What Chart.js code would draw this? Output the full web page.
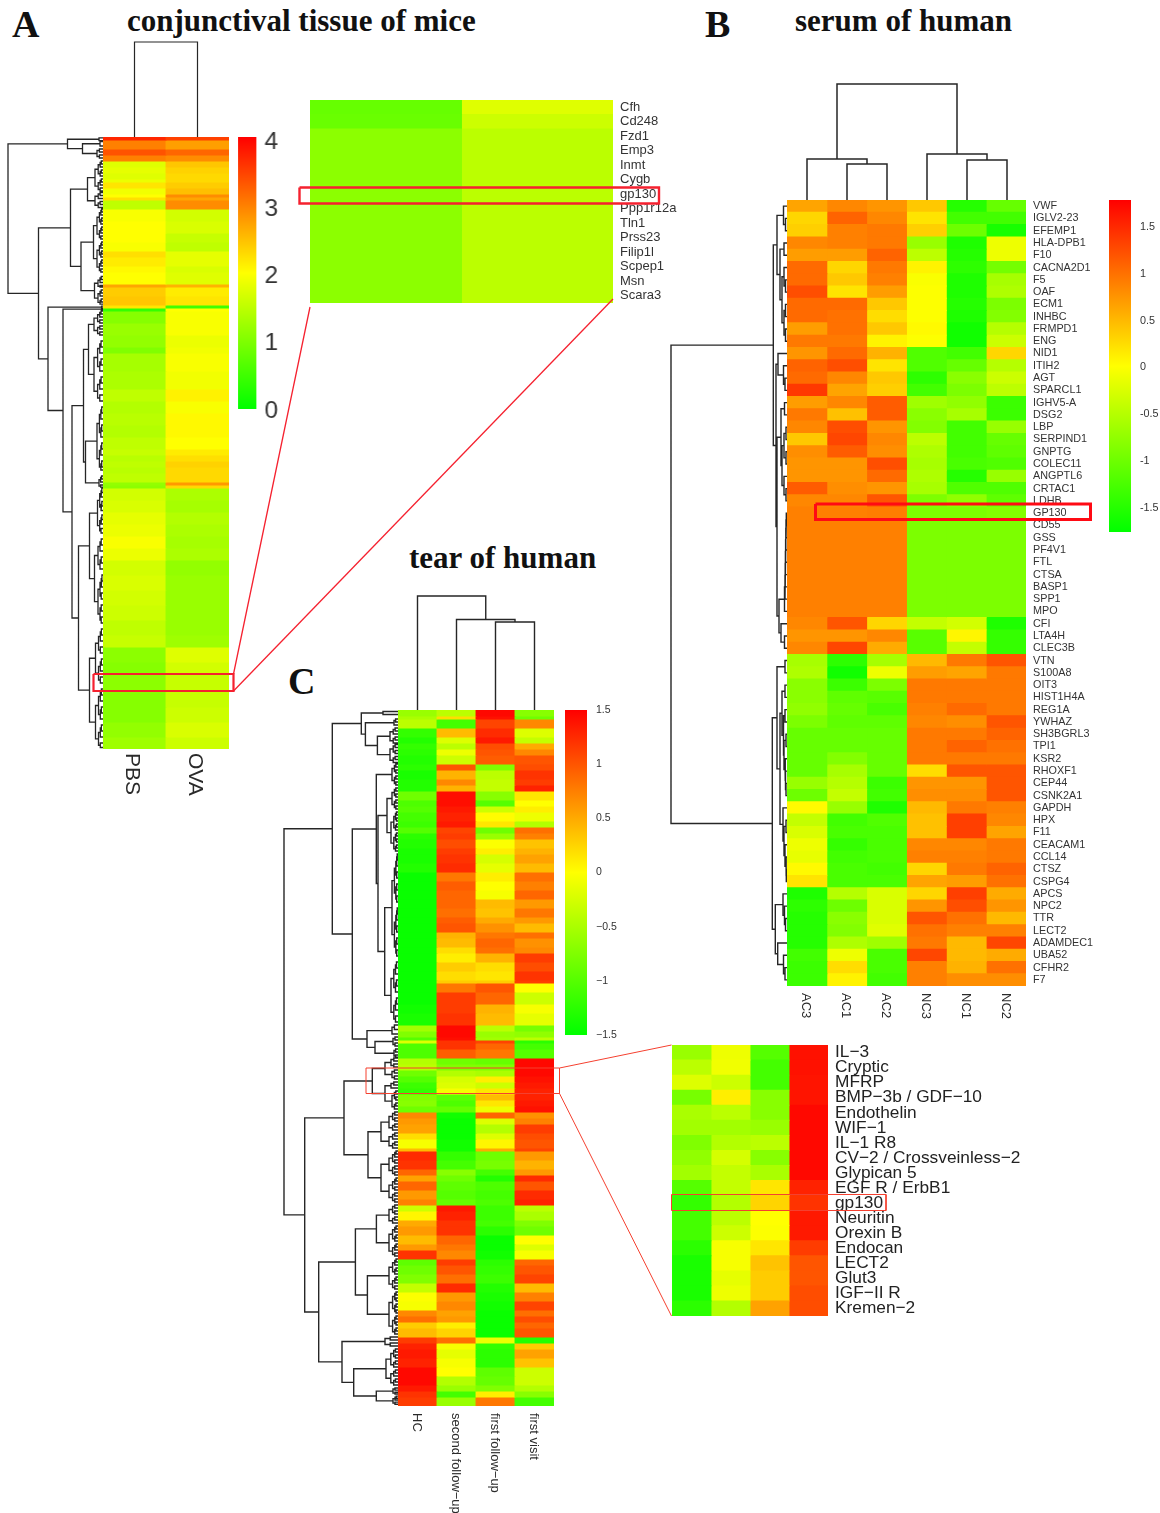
<!DOCTYPE html>
<html><head><meta charset="utf-8">
<script src="https://cdn.jsdelivr.net/npm/chart.js@4/dist/chart.umd.min.js"></script>
<style>
html,body{margin:0;padding:0;background:#fff}
#page{position:relative;width:1160px;height:1513px;overflow:hidden;background:#fff;filter:blur(.45px)}
#page canvas{position:absolute;display:block}
.t{position:absolute;font-family:"Liberation Serif",serif;font-weight:bold;color:#111;white-space:nowrap;line-height:1}
</style></head><body><div id="page">
<div class="t" style="left:12px;top:5px;font-size:38px">A</div>
<div class="t" style="left:127px;top:5px;font-size:31px">conjunctival tissue of mice</div>
<div class="t" style="left:705px;top:5px;font-size:38px">B</div>
<div class="t" style="left:795px;top:5px;font-size:31px">serum of human</div>
<div class="t" style="left:288px;top:662px;font-size:38px">C</div>
<div class="t" style="left:409px;top:542px;font-size:31px">tear of human</div>
</div>
<script>
/* ---------- Panel A: conjunctival tissue of mice ---------- */
const A_columns = ['PBS','OVA'];
/* [genes in block, PBS, OVA] */
const A_rows = [
[1,3.7,3.5],[3,3.0,2.75],[2,3.35,3.2],[2,3.0,2.9],
[2,1.75,2.45],[2,1.8,2.35],[2,1.75,2.3],[1,1.85,2.3],[2,2.2,2.4],[2,1.9,2.5],[1,2.0,2.9],[1,2.25,2.7],[3,1.5,2.9],
[4,1.95,1.65],[4,2.0,1.7],[3,2.0,1.55],[3,1.95,1.5],[2,2.25,1.8],[3,2.15,1.8],[2,2.05,1.7],[4,2.0,1.75],
[1,2.7,2.6],[3,2.4,2.15],[3,2.45,2.2],[1,2.2,0.5],[1,0.4,2.0],
[4,1.05,1.95],[4,1.2,1.95],[4,1.15,1.85],[2,1.0,1.9],[6,1.3,1.95],[6,1.35,1.9],[4,1.5,2.1],
[4,1.4,1.95],[4,1.45,2.05],[4,1.4,2.05],[4,1.5,2.0],[2,1.55,2.15],[2,1.45,2.25],[2,1.5,2.35],[2,1.45,2.3],[3,1.5,2.3],
[1,1.15,2.8],[1,1.1,2.3],
[4,1.65,1.35],[4,1.7,1.3],[4,1.8,1.4],[4,1.85,1.35],[4,1.95,1.3],[4,1.85,1.35],
[5,1.65,1.15],[5,1.7,1.2],[5,1.65,1.2],[5,1.6,1.2],[5,1.5,1.2],[4,1.55,1.25],
[5,1.1,1.75],[4,1.05,1.65],[6,1.1,1.55],[5,1.05,1.55],[5,1.05,1.6],[5,1.15,1.7],[4,1.25,1.6]];
const A_colTree = [95,1,2];
const A_rowTree = [95,
 [35.5,[4,0.3,1.2],[20.5,[3,1.5,3],[6,4,5,6,7]]],
 [64.5,
  [32.5,
   [15.5,[8,8,9,10,11,12,13,14,15,16,17,18],[8,18.5,19.5,20.5,21.5,22.5,23.5]],
   [22,[9.5,[6,24,25,26,27,28,29,30,31,32,33,34],[6,35,36,37,38,39,40,41,42,43,44,45]],[8.5,[5,46.5,47.5,48.5,49.5,50],[5,51,52,53,54,55,55.7]]]],
  [55,
   [1.5,56.4,57],
   [40,
    [1.5,57.2,57.6],
    [31,
     [19.5,
      [14.5,[9,58,59,60,61,62,63,64,65,66],[9,68,70,72,74,76,78,80,82,84,86,88]],
      [17.5,[6,90,92,94,96,98,100,102,104,106,108,110,111],[4,113,114,115,116,116.7]]],
     [24.5,
      [13.5,[5.5,117,118.5,120,121.5,123,124.5,126,127.5,129,130.5,132],[8.5,[5,134,136,138,140,142,144],[5,146,148,150,152,154,156,158,160,162]]],
      [13.5,[7.5,164,166,168,170,172,174,176,178,180,182],[7.5,184,186,188,190,192,194,196,198,200,202,203.5]]]]]]]];
const A_tickValues = [0,1,2,3,4];

const A_insetGenes = ['Cfh','Cd248','Fzd1','Emp3','Inmt','Cygb','gp130','Ppp1r12a','Tln1','Prss23','Filip1l','Scpep1','Msn','Scara3'];
const A_insetPBS = [0.8,0.82,1.1,1.1,1.1,1.1,1.1,1.1,1.1,1.1,1.1,1.1,1.1,1.1];
const A_insetOVA = [1.75,1.6,1.47,1.47,1.47,1.47,1.47,1.47,1.47,1.47,1.47,1.47,1.47,1.47];

/* ---------- Panel B: serum of human ---------- */
const B_columns = ['AC3','AC1','AC2','NC3','NC1','NC2'];
const B_genes = ['VWF','IGLV2-23','EFEMP1','HLA-DPB1','F10','CACNA2D1','F5','OAF','ECM1','INHBC','FRMPD1','ENG','NID1','ITIH2','AGT','SPARCL1','IGHV5-A','DSG2','LBP','SERPIND1','GNPTG','COLEC11','ANGPTL6','CRTAC1','LDHB','GP130','CD55','GSS','PF4V1','FTL','CTSA','BASP1','SPP1','MPO','CFI','LTA4H','CLEC3B','VTN','S100A8','OIT3','HIST1H4A','REG1A','YWHAZ','SH3BGRL3','TPI1','KSR2','RHOXF1','CEP44','CSNK2A1','GAPDH','HPX','F11','CEACAM1','CCL14','CTSZ','CSPG4','APCS','NPC2','TTR','LECT2','ADAMDEC1','UBA52','CFHR2','F7'];
const B_values = [
[.65,.85,.75,.4,-1.5,-1.05],[.3,1.1,.85,.2,-1.3,-1.3],[.35,.9,.95,.35,-1.0,-1.6],[.85,.9,.95,-.7,-1.55,-.1],[.7,.7,1.1,-.45,-1.5,-.1],
[1.05,.3,.95,.1,-1.45,-.95],[1.05,.4,.9,-.02,-1.55,-.6],[1.25,.2,.7,0,-1.55,-.55],[1.05,1.05,.4,0,-1.5,-.9],[1.05,1.0,.25,0,-1.55,-.85],
[.7,1.0,.4,.05,-1.65,-.5],[.95,.95,.1,0,-1.65,-.35],[.75,1.05,.55,-1.2,-1.3,.3],[1.1,1.25,.2,-1.2,-1.05,-.5],[1.05,.85,.4,-1.45,-.8,-.35],
[1.4,.65,.35,-1.3,-.9,-.45],[.7,.85,1.15,-.65,-.75,-1.35],[.95,.45,1.15,-.8,-.6,-1.35],[.85,1.25,.75,-.85,-1.3,-.7],[.4,1.3,.85,-.45,-1.3,-1.05],
[.8,1.15,.8,-.55,-1.3,-1.1],[.75,.75,1.25,-.6,-1.25,-1.2],[.75,.75,1.05,-.55,-1.5,-.7],[1.15,.8,.75,-.6,-1.2,-1.2],[.85,.85,1.2,-.9,-.75,-1.1],
[.9,.9,.92,-.9,-.9,-.85],[.9,.9,.9,-.9,-.9,-.9],[.9,.9,.9,-.9,-.9,-.9],[.9,.9,.9,-.9,-.9,-.9],[.9,.9,.9,-.9,-.9,-.9],[.9,.9,.9,-.9,-.9,-.9],[.9,.9,.9,-.9,-.9,-.9],[.9,.9,.9,-.9,-.9,-.9],[.9,.9,.9,-.9,-.9,-.9],
[.85,1.2,.3,-.4,-.3,-1.55],[.75,.75,.85,-1.15,.08,-1.4],[.85,1.3,.6,-1.15,-.4,-1.4],
[-.6,-1.45,-.6,.5,.95,1.2],[-.55,-1.65,-.1,.7,.65,.95],[-.8,-1.35,-.9,.95,.95,.95],[-.8,-1.1,-1.15,.95,.95,.95],[-.75,-1.05,-1.25,.9,1.05,.95],
[-.9,-1.1,-1.1,.85,.8,1.2],[-1.05,-1.05,-1.05,.95,.95,1.1],[-1.05,-1.05,-1.05,.95,1.1,1.0],[-1.05,-.85,-1.05,.95,.95,.95],[-1.05,-.6,-1.05,.25,1.2,1.2],
[-.7,-.5,-1.35,.75,.75,1.2],[-1.0,-.4,-1.3,.8,.8,1.2],[.05,-.7,-1.55,.5,.95,.9],[-.4,-1.3,-1.2,.45,1.35,.85],[-.25,-1.25,-1.25,.45,1.35,.65],
[-.1,-1.4,-1.25,.85,.85,.95],[-.15,-1.3,-1.25,.9,.9,.95],[.05,-1.25,-1.3,.3,.95,1.1],[.2,-1.25,-1.25,.65,.7,1.0],
[-1.55,-.5,-.25,.3,1.35,.6],[-1.45,-1.0,-.25,.75,1.25,.75],[-1.5,-.8,-.25,1.2,1.0,.5],[-1.5,-.85,-.2,1.0,.9,.9],[-1.5,-.55,-.65,.95,.5,1.3],
[-1.3,-.1,-1.25,1.3,.5,.6],[-1.35,.25,-1.25,.9,.55,1.0],[-1.35,.1,-1.3,.9,.8,.8]];
const B_colTree = [116,[41,1,[36,2,3]],[46,4,[40,5,6]]];
const B_rowTree = [116,
 [13.7,
  [10,[3.5,1,[1.5,2,3]],[7,[3,4,5],[5,[3,6,[1.5,7,8]],[3,[1.5,9,10],[1.5,11,12]]]]],
  [11,
   [9,13,[3.5,14,[2,15,16]]],
   [10,
    [6,[2.5,17,18],[5,[3,[1,19,20],[1,21,22]],[3,23,[1,24,25]]]],
    [8,[2.5,[2,[1.8,[1.6,[1.4,[1.2,[1,[.7,26,27],28],29],30],31],32],33],34],[6,35,[2.5,36,37]]]]]],
 [14.7,
  [10,[2,38,39],[7,[5,[2,40,41],[3.5,[2,42,43],[3,[1,44,45],[2,46,[1.5,47,[1,48,49]]]]]],[4,50,[3,[1,51,52],[2,53,[1,54,[.7,55,56]]]]]]],
  [11.7,[4,57,[2.5,58,[1.5,59,60]]],[9.3,61,[3.5,62,[2,63,64]]]]]];
const B_tickValues = [-1.5,-1,-0.5,0,0.5,1,1.5];

/* ---------- Panel C: tear of human ---------- */
const C_columns = ['HC','second follow\u2212up','first follow\u2212up','first visit'];
/* [genes in block, HC, second follow-up, first follow-up, first visit] */
const C_rows = [
[2,-.6,-.4,1.45,-.7],[1,-.5,.2,1.4,-.85],[3,-.4,-1.1,1.1,.7],[3,-1.2,.4,1.25,-.2],[2,-1.3,-.2,1.35,-.35],[2,-1.2,-.4,1.05,.5],[2,-1.25,-.1,1.0,.7],[3,-1.3,-.3,.95,1.0],
[2,-1.25,1.0,-.75,1.05],[3,-1.35,.45,-.4,1.2],[2,-1.3,.7,-.35,1.15],[2,-1.3,.45,-.35,1.3],[3,-.85,1.42,-.7,.15],[2,-1.05,1.42,-1.0,0],[2,-1.0,1.35,-.3,.1],[3,-1.1,1.3,.02,-.1],[2,-1.15,1.35,.15,-.45],
[2,-1.0,1.1,-.85,.85],[2,-1.25,1.15,-.6,.75],[3,-1.3,1.05,-.02,.35],[2,-1.35,1.15,.1,.45],[3,-1.35,1.2,-.25,.55],[3,-1.3,1.25,-.15,.4],
[3,-1.45,.8,.1,.85],[3,-1.45,.95,0,.75],[3,-1.45,.9,-.05,.9],[3,-1.45,.9,.4,.6],[3,-1.45,.85,.35,.8],[2,-1.45,.95,.5,.6],[3,-1.45,1.0,.65,.4],
[2,-1.45,.45,.8,.85],[3,-1.45,.4,.9,.65],[2,-1.45,.2,.85,.7],[3,-1.45,.1,.45,1.15],[3,-1.45,.3,.2,1.05],[3,-1.45,.2,.15,1.2],[1,-1.45,.3,.3,1.15],
[3,-1.45,.8,1.0,0],[4,-1.45,1.15,.9,-.3],[3,-1.4,1.15,.45,-.05],[4,-1.35,1.2,.4,-.15],[2,-.55,1.45,-.4,-.8],[2,-.75,1.45,-.6,-.65],[1,-1.0,1.42,-.55,-.4],
[1,-.2,1.2,1.1,-1.25],[2,-1.05,1.2,.9,-1.1],[3,-1.05,.95,.8,-1.0],
[2,-.45,-.85,-.9,1.45],[2,-.4,-.75,-.75,1.45],[2,-.85,-.45,-.5,1.45],[2,-1.0,-.25,.1,1.4],[2,-1.15,-.2,-.3,1.35],[2,-1.2,-.05,.15,1.3],[2,-.75,-.95,.4,1.3],[2,-.7,-1.05,.15,1.35],[2,-.85,-.9,-.1,1.4],
[2,.7,-1.4,.9,.65],[2,.6,-1.45,-.2,.75],[3,.55,-1.45,-.45,1.15],[2,.2,-1.45,-.2,1.05],[3,-.05,-1.4,.05,1.0],[1,.4,-1.4,.5,1.1],
[3,1.25,-1.2,-.85,.6],[3,1.2,-1.1,-.8,.45],[2,.9,-.7,-1.1,.6],[2,.55,-.85,-1.3,1.25],[3,.9,-.95,-1.05,1.0],[3,.6,-1.0,-1.1,1.25],[2,.75,-.9,-1.05,1.3],
[2,-.3,1.35,-1.15,-.4],[3,.05,1.3,-1.15,-.5],[2,.5,1.2,-1.1,-.75],[3,.6,1.2,-1.25,-.85],[3,.4,.9,-1.45,0],[2,.6,.8,-1.45,-.2],[3,1.2,.7,-1.4,-.05],
[2,-.95,1.15,-1.25,.9],[3,-.85,1.0,-1.2,1.0],[3,-.75,.85,-1.15,1.1],[3,-.35,1.25,-1.3,.4],[3,-.02,.6,-1.35,.75],[3,-.05,.7,-1.4,1.1],
[2,.7,.55,-1.45,.85],[2,.85,.6,-1.45,1.05],[2,.3,.1,-1.45,.9],[3,.4,.25,-1.45,1.0],[2,1.15,.85,-.1,-1.3],
[2,1.3,-.05,-1.2,.3],[3,1.35,-.15,-1.25,.55],[3,1.3,-.05,-1.25,.35],[3,1.45,0,-.95,-.3],[3,1.45,-.45,-.9,-.3],[2,1.35,-.6,-.75,-.45],[2,1.2,-1.1,.1,-.7],[3,1.15,-.6,.8,-1.1]];
const C_colTree = [114,1,[90.5,2,[88,3,4]]];
const C_rowTree = [114,
 [65.7,
  [36.7,[15,.5,1.5],[32.6,[4,3,4,5],[20.6,[8,6,7,8,9,10,11],[8,11.5,12.5,13.5,14.5,15.5,16.5,17.5]]]],
  [45.7,
   [21.7,[6,18,19,20,21,22,23,24,25],
    [20,
     [11,[6,26,27,28,29,30,31,32,33],[7,34,35,36,37,38,39,40,41,42,43,44,45,46,47]],
     [13.3,[6,48,50,52,54,56,58,60,62,64,66,68,70,72,74,76,78,80,82],[7,84,86,88,90,92,94,96,98,100,102,104]]]],
   [31,[6,105,106.5,108],[23,[5,109,110,111,112],[4,113,114,115,115.7]]]]],
 [93.3,
  [54,
   [25.7,[13,[7,116,117,118,119],[6,120,121,122,123]],[13,[7,124,125,126],[6,127,128,129,130,131,132,133]]],
   [30,[17,[9,134,135,136,137,138,139,140],[9,141,142,143,144,145,146]],[17,[9,147,148,149,150,151,152,153,154,155],[9,156,157,158,159,160,161,162,163,164]]]],
  [79.3,
   [42.6,
    [21.6,[9,165,166,167,168,169,170,171],[9,172,173,174,175,176,177,178,179,180,181,182]],
    [30.6,[9,183,184,185,186,187,188,189,190,191,192,193],[9,194,195,196,197,198,199,200,201,202,203,204,205,206,207,208]]],
   [56,
    [13,209,210,211,212],
    [44.3,[12,213,214,215,216,217,218,219,220,221,222,223,224,225],[21.7,[5,226,226.7,227.4,228],[5,228.7,229.4,230,230.7,231.4]]]]]]];
const C_tickValues = [-1.5,-1,-0.5,0,0.5,1,1.5];

const C_insetGenes = ['IL\u22123','Cryptic','MFRP','BMP\u22123b / GDF\u221210','Endothelin','WIF\u22121','IL\u22121 R8','CV\u22122 / Crossveinless\u22122','Glypican 5','EGF R / ErbB1','gp130','Neuritin','Orexin B','Endocan','LECT2','Glut3','IGF\u2212II R','Kremen\u22122'];
const C_insetHC = [-.6,-.4,-.2,-.8,-.5,-.55,-.75,-.65,-.55,-1.0,-1.2,-1.1,-1.1,-1.25,-1.35,-1.35,-1.35,-1.25];
const C_insetSecond = [-.1,-.08,-.3,.1,-.4,-.55,-.45,-.25,-.35,-.35,-.45,-.4,-.3,-.05,-.05,-.15,-.1,-.45];
const C_insetFirst = [-1.0,-1.1,-1.1,-.7,-.7,-.6,-.4,-.7,-.5,.15,.25,0,-.02,.15,.35,.3,.3,.55];
const C_insetVisit = [1.4,1.4,1.38,1.38,1.45,1.45,1.45,1.45,1.45,1.3,1.2,1.35,1.35,1.15,1.0,1.0,1.05,1.05];

/* ---------- call-out boxes and connectors, in page units ---------- */
const callouts = [
 {w:2.2,c:'#f5212f',pts:[[93.5,674],[233.5,674],[233.5,691],[93.5,691],[93.5,674]]},
 {w:1.3,c:'#f5212f',pts:[[233.5,674],[310,307]]},
 {w:1.3,c:'#f5212f',pts:[[233.5,691],[613,299]]},
 {w:2.4,c:'#f5212f',pts:[[299.5,187.5],[659,187.5],[659,203.5],[299.5,203.5],[299.5,187.5]]},
 {w:3,c:'#ff0a14',pts:[[815.5,504],[1090.5,504],[1090.5,519.5],[815.5,519.5],[815.5,504]]},
 {w:1,c:'#f5402f',pts:[[366,1068],[559.5,1068],[559.5,1093.5],[366,1093.5],[366,1068]]},
 {w:1,c:'#f5402f',pts:[[559.5,1068],[671.5,1045]]},
 {w:1,c:'#f5402f',pts:[[559.5,1093.5],[671.5,1316]]},
 {w:1,c:'#f5402f',pts:[[671.5,1194.5],[886,1194.5],[886,1210.5],[671.5,1210.5],[671.5,1194.5]]}
];

/* ---------- helpers ---------- */
const page = document.getElementById('page');
const SANS = '"Liberation Sans",Arial,sans-serif';
Chart.defaults.animation = false;
Chart.defaults.responsive = false;
Chart.defaults.devicePixelRatio = 1;
Chart.defaults.plugins.legend.display = false;
Chart.defaults.plugins.tooltip.enabled = false;

function place(x,y,w,h,pad,cfg){
  const c=document.createElement('canvas');
  const W=w+pad.left+pad.right,H=h+pad.top+pad.bottom;
  c.width=W;c.height=H;
  c.style.left=(x-pad.left)+'px';c.style.top=(y-pad.top)+'px';
  c.style.width=W+'px';c.style.height=H+'px';
  page.appendChild(c);
  return new Chart(c.getContext('2d'),cfg);
}
function heat(v,lo,hi){
  const t=Math.max(0,Math.min(1,(v-lo)/(hi-lo)));
  const r=t<.5?Math.round(510*t):255, g=t<.5?255:Math.round(510*(1-t));
  return 'rgb('+r+','+g+',0)';
}
function rotatedLabels(labels,centerOf,opt){
  return {id:'columnLabels',afterDraw(chart){
    const ctx=chart.ctx;
    ctx.save();ctx.font=opt.font;ctx.fillStyle='#2a2a2a';ctx.textAlign='left';ctx.textBaseline='middle';
    labels.forEach((s,i)=>{
      ctx.save();ctx.translate(centerOf(chart,i)+(opt.dx||0),chart.chartArea.bottom+opt.labelGap);
      ctx.rotate(Math.PI/2);ctx.fillText(s,0,0);ctx.restore();
    });
    ctx.restore();
  }};
}
/* block heatmap: vertical stacked bars, one dataset per block of genes */
function blockHeat(x,y,w,h,cols,rows,lo,hi,lab){
  const total=rows.reduce((s,r)=>s+r[0],0);
  const pad={left:1,right:1,top:1,bottom:lab.room};
  place(x,y,w,h,pad,{type:'bar',
    data:{labels:cols,datasets:rows.map(r=>({
      data:cols.map(()=>r[0]),
      backgroundColor:cols.map((_,i)=>heat(r[i+1],lo,hi)),
      borderWidth:0,inflateAmount:.45,barPercentage:1,categoryPercentage:1,stack:'s'}))},
    options:{layout:{padding:pad},
      scales:{x:{display:false,stacked:true},y:{display:false,stacked:true,reverse:true,min:0,max:total}}},
    plugins:[rotatedLabels(cols,(ch,i)=>ch.scales.x.getPixelForValue(i),lab)]});
}
/* gene heatmap: horizontal stacked bars, gene names on the category axis */
function geneHeat(x,y,w,h,genes,cols,matrix,lo,hi,o){
  const pad={left:1,right:o.labelW,top:1,bottom:o.room||1};
  const plugins=o.colLabels?[rotatedLabels(o.colLabels,(ch,i)=>ch.scales.x.getPixelForValue(i+.5),o)]:[];
  place(x,y,w,h,pad,{type:'bar',
    data:{labels:genes,datasets:cols.map((c,j)=>({
      label:c,data:genes.map(()=>1),
      backgroundColor:genes.map((_,i)=>heat(matrix[i][j],lo,hi)),
      borderWidth:0,inflateAmount:.45,barPercentage:1,categoryPercentage:1}))},
    options:{indexAxis:'y',layout:{padding:{left:pad.left,right:0,top:pad.top,bottom:pad.bottom}},
      scales:{x:{display:false,stacked:true,min:0,max:cols.length},
        y:{stacked:true,position:'right',grid:{display:false,drawTicks:false},border:{display:false},
           afterFit(s){s.width=pad.right;s.paddingTop=0;s.paddingBottom=0;},
           ticks:{autoSkip:false,padding:o.gap,color:o.color||'#333',font:{family:SANS,size:o.size}}}}},
    plugins});
}
/* flatten a nested [height, child, child, ...] tree into bracket segments */
function treeSegments(tree){
  const pts=[];
  function walk(n){
    if(typeof n==='number')return {p:n,h:0};
    const h=n[0],kids=n.slice(1);
    let a,b;
    if(kids.length===2){a=walk(kids[0]);b=walk(kids[1]);}
    else{
      const m=Math.ceil(kids.length/2),A=kids.slice(0,m),B=kids.slice(m);
      a=A.length===1?walk(A[0]):walk([h*.6,...A]);
      b=B.length===1?walk(B[0]):walk([h*.6,...B]);
    }
    pts.push([a.h,a.p],[h,a.p],[h,b.p],[b.h,b.p],null);
    return {p:(a.p+b.p)/2,h};
  }
  walk(tree);
  return pts;
}
function treeDataset(tree,horizontal,lw){
  return {data:treeSegments(tree).map(q=>q?(horizontal?{x:q[1],y:q[0]}:{x:q[0],y:q[1]}):{x:NaN,y:NaN}),
    showLine:true,pointRadius:0,borderWidth:lw,borderColor:'#262626',tension:0,clip:false,spanGaps:false,
    borderCapStyle:'square',borderJoinStyle:'miter'};
}
function colTree(tree,x,y,w,n,lw){
  const H=tree[0],m=2,pad={left:1,right:1,top:1,bottom:1};
  place(x,y-H-m,w,H+m,pad,{type:'scatter',data:{datasets:[treeDataset(tree,true,lw)]},
    options:{layout:{padding:pad},scales:{x:{display:false,type:'linear',min:.5,max:n+.5},y:{display:false,min:0,max:H+m}}}});
}
function rowTree(tree,x,y,h,lo,hi,lw){
  const H=tree[0],m=3,pad={left:1,right:1,top:1,bottom:1};
  place(x-H-m,y,H+m,h,pad,{type:'scatter',data:{datasets:[treeDataset(tree,false,lw)]},
    options:{layout:{padding:pad},scales:{x:{display:false,type:'linear',reverse:true,min:0,max:H+m},y:{display:false,reverse:true,min:lo,max:hi}}}});
}
function colourBar(x,y,w,h,lo,hi,ticks,o){
  const pad={left:1,right:o.labelW,top:o.pad,bottom:o.pad};
  place(x,y,w,h,pad,{type:'bar',
    data:{labels:[''],datasets:[{data:[[lo,hi]],borderWidth:0,barPercentage:1,categoryPercentage:1,
      backgroundColor(c){
        const a=c.chart.chartArea; if(!a)return '#ff0';
        const g=c.chart.ctx.createLinearGradient(0,a.bottom,0,a.top);
        g.addColorStop(0,'#00ff00');g.addColorStop(.5,'#ffff00');g.addColorStop(1,'#ff0000');
        return g;}}]},
    options:{layout:{padding:{left:1,right:0,top:o.pad,bottom:o.pad}},
      scales:{x:{display:false},
        y:{position:'right',min:lo,max:hi,grid:{display:false,drawTicks:false},border:{display:false},
           afterFit(s){s.width=pad.right;s.paddingTop=0;s.paddingBottom=0;},
           afterBuildTicks(s){s.ticks=ticks.map(v=>({value:v}));},
           ticks:{padding:o.gap,color:'#333',font:{family:SANS,size:o.size},
             callback:v=>o.minus?String(v).replace('-','\u2212'):String(v)}}}}});
}

/* ---------- Panel A ---------- */
colTree(A_colTree,102.5,137,126.5,2,1.2);
rowTree(A_rowTree,102.5,137,612,0,204,1.3);
blockHeat(102.5,137,126.5,612,A_columns,A_rows,0,4,{room:60,font:'21px '+SANS,labelGap:4,dx:-3});
colourBar(238,137,18.5,272,0.03,4.074,A_tickValues,{labelW:36,pad:16,gap:8,size:24});
geneHeat(310,100,303,203,A_insetGenes,['PBS','OVA'],A_insetGenes.map((_,i)=>[A_insetPBS[i],A_insetOVA[i]]),0,4,{labelW:80,gap:7,size:13});

/* ---------- Panel B ---------- */
colTree(B_colTree,787,199.5,240,6,1.5);
rowTree(B_rowTree,787,199.5,786.5,.5,64.5,1.4);
geneHeat(787,199.5,239,786.5,B_genes,B_columns,B_values,-1.76,1.79,{labelW:90,gap:7,size:10.8,room:40,colLabels:B_columns,font:'13px '+SANS,labelGap:7,dx:-1});
colourBar(1109,199.5,22,332,-1.76,1.79,B_tickValues,{labelW:29,pad:10,gap:9,size:10.8});

/* ---------- Panel C ---------- */
colTree(C_colTree,398.3,710,156,4,1.4);
rowTree(C_rowTree,398.3,710,696,0,232,1.4);
blockHeat(398.3,710,156,696,C_columns,C_rows,-1.5,1.5,{room:107,font:'13px '+SANS,labelGap:7,dx:-1});
colourBar(565,710,22,325,-1.5,1.5,C_tickValues,{labelW:34,pad:10,gap:9,size:10.5,minus:true});
const C_inset = C_insetGenes.map((_,i)=>[C_insetHC[i],C_insetSecond[i],C_insetFirst[i],C_insetVisit[i]]);
geneHeat(671.7,1045,156,271,C_insetGenes,C_columns,C_inset,-1.5,1.5,{labelW:200,gap:7,size:17.3,color:'#222'});

/* ---------- call-outs over everything ---------- */
(function(){
  const pad={left:0,right:0,top:0,bottom:0};
  place(0,0,1160,1513,pad,{type:'scatter',
    data:{datasets:callouts.map(k=>({data:k.pts.map(p=>({x:p[0],y:p[1]})),showLine:true,pointRadius:0,
      borderWidth:k.w,borderColor:k.c,tension:0,clip:false,borderJoinStyle:'miter'}))},
    options:{layout:{padding:0},scales:{x:{display:false,type:'linear',min:0,max:1160},y:{display:false,reverse:true,min:0,max:1513}}}});
})();
</script></body></html>
